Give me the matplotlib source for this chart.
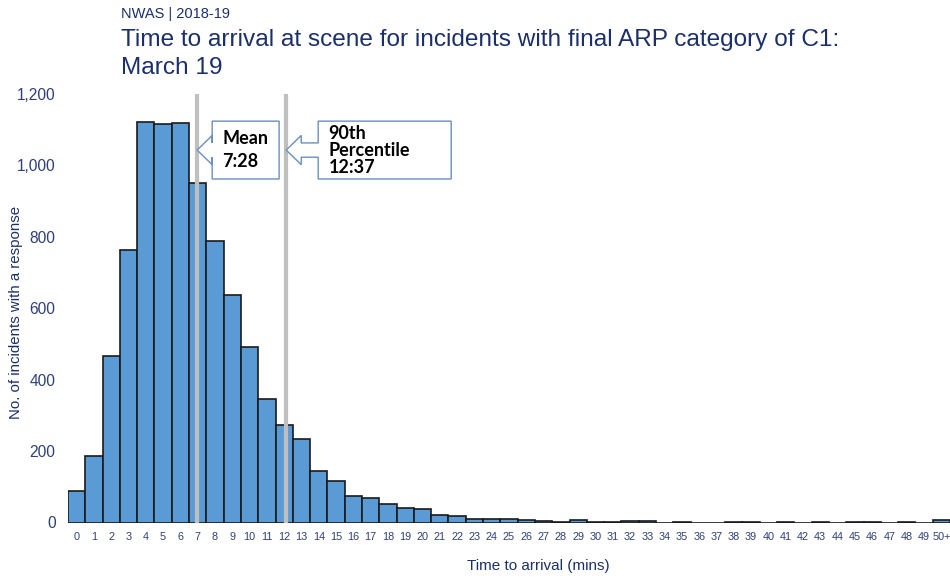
import matplotlib
matplotlib.use("Agg")
import matplotlib.pyplot as plt
from matplotlib.patches import Polygon

# Arrival-time histogram (one-minute bins, last bin is 50+ minutes)
categories = [str(i) for i in range(50)] + ["50+"]
counts = [88, 186, 466, 763, 1122, 1116, 1118, 952, 789, 637,
          492, 347, 274, 233, 145, 117, 74, 68, 51, 41,
          38, 21, 19, 11, 9, 11, 6, 4, 1, 6,
          2, 2, 4, 4, 0, 1, 0, 0, 1, 1,
          0, 1, 0, 1, 0, 1, 1, 0, 1, 0,
          8]
mean_minutes = 7 + 28 / 60
p90_minutes = 12 + 37 / 60
mean_label = "Mean\n7:28"
p90_label = "90th\nPercentile\n12:37"
yticks = [0, 200, 400, 600, 800, 1000, 1200]

navy = "#1B2F6B"
tick_col = "#2E3F78"
bar_col = "#5B9BD5"

fig = plt.figure(figsize=(9.5, 5.8), dpi=100)
ax = fig.add_axes([68 / 950, 57.5 / 580, 882 / 950, 428.5 / 580])

x = list(range(len(categories)))
ax.bar(x, counts, width=1.0, color=bar_col, edgecolor="#1a1a1a",
       linewidth=1.2, zorder=2)

ax.set_xlim(-0.5, len(categories) - 0.5)
ax.set_ylim(0, 1200)
ax.set_xticks(x)
ax.set_xticklabels(categories, fontsize=7.8, color=tick_col,
                   family="Liberation Sans")
ax.set_yticks(yticks)
ax.set_yticklabels([f"{v:,}" for v in yticks], fontsize=11.2, color=tick_col,
                   family="Liberation Sans")
ax.tick_params(axis="x", length=0, pad=7)
ax.tick_params(axis="y", length=0, pad=9)
for s in ax.spines.values():
    s.set_visible(False)

# Reference lines (bins span [i, i+1) minutes, centred on i)
mean_x = mean_minutes - 0.5
p90_x = p90_minutes - 0.5
for lx in (mean_x, p90_x):
    ax.plot([lx, lx], [0, 1200], color="#BFBFBF", lw=3.0, zorder=3,
            solid_capstyle="butt", clip_on=False)


def arrow_callout(tip_x, shaft_len, box_w, text, spacing):
    head_len = 0.87
    top, bot = 1124, 962
    mid = (top + bot) / 2
    head_half, shaft_half = 41, 20
    hx = tip_x + head_len
    bx = hx + shaft_len
    pts = [(bx, top), (bx + box_w, top), (bx + box_w, bot), (bx, bot),
           (bx, mid - shaft_half), (hx, mid - shaft_half),
           (hx, mid - head_half), (tip_x, mid),
           (hx, mid + head_half), (hx, mid + shaft_half),
           (bx, mid + shaft_half)]
    ax.add_patch(Polygon(pts, closed=True, facecolor="white",
                         edgecolor="#6A8FC0", lw=1.0, zorder=4))
    ax.text(bx + 0.6, mid, text, ha="left", va="center", fontsize=13,
            fontweight="bold", family="Lato", color="black",
            linespacing=spacing, zorder=5)


arrow_callout(mean_x, 0.0, 3.87, mean_label, 1.4)
arrow_callout(p90_x, 0.98, 7.69, p90_label, 1.0)

ax.set_ylabel("No. of incidents with a response", fontsize=10.8, color=navy,
              family="Liberation Sans")
ax.yaxis.set_label_coords(-0.051, 0.49)

fig.text(538 / 950, 1 - 566 / 580, "Time to arrival (mins)", ha="center",
         va="center", fontsize=11, color=navy, family="Liberation Sans")
fig.text(121 / 950, 1 - 14 / 580, "NWAS | 2018-19", ha="left", va="center",
         fontsize=10.5, color=navy, family="Liberation Sans")
fig.text(121 / 950, 1 - 54 / 580,
         "Time to arrival at scene for incidents with final ARP category of C1:\nMarch 19",
         ha="left", va="center", fontsize=17.6, color=navy,
         family="Liberation Sans", linespacing=1.3)

fig.savefig("out.png", dpi=100, facecolor="white")
